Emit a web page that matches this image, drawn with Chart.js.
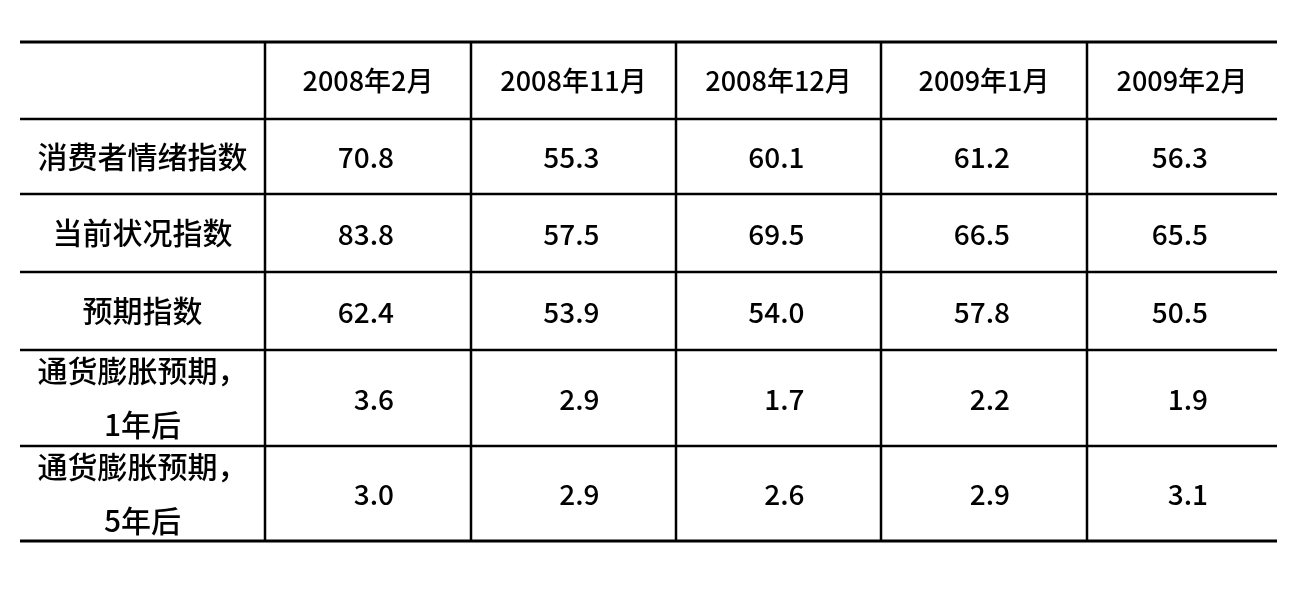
<!DOCTYPE html>
<html><head><meta charset="utf-8">
<script src="https://cdn.jsdelivr.net/npm/chart.js@4.4.0/dist/chart.umd.min.js"></script>
<style>html,body{margin:0;padding:0;background:#fff;overflow:hidden}</style></head>
<body><canvas id="c" width="1303" height="603"></canvas>
<script>
// ---- data ----
const columns = ['2008年2月', '2008年11月', '2008年12月', '2009年1月', '2009年2月'];
const rowLabels = [['消费者情绪指数'], ['当前状况指数'], ['预期指数'], ['通货膨胀预期，', '1年后'], ['通货膨胀预期，', '5年后']];
const sentimentIndex = [70.8, 55.3, 60.1, 61.2, 56.3];
const currentIndex   = [83.8, 57.5, 69.5, 66.5, 65.5];
const expectIndex    = [62.4, 53.9, 54.0, 57.8, 50.5];
const inflation1y    = [3.6, 2.9, 1.7, 2.2, 1.9];
const inflation5y    = [3.0, 2.9, 2.6, 2.9, 3.1];
const tableRows = [sentimentIndex, currentIndex, expectIndex, inflation1y, inflation5y];

// ---- layout (scale units) ----
const COL_W = [245, 206, 205, 205, 206, 190];
const ROW_H = [77, 75, 78, 78, 96, 95];
function edges(a){ const e=[0]; a.forEach(w=>e.push(e[e.length-1]+w)); return e; }
const colEdges = edges(COL_W), rowEdges = edges(ROW_H);
const mid = (e,i) => (e[i]+e[i+1])/2;

const headerPts = columns.map((t,i)=>({x:mid(colEdges,i+1), y:mid(rowEdges,0), text:[t], kind:'head'}));
const labelPts = rowLabels.map((t,r)=>({x:mid(colEdges,0), y:mid(rowEdges,r+1), text:t, kind:'label'}));
const valuePts = [];
tableRows.forEach((vals,r)=>vals.forEach((v,c)=>valuePts.push({x:mid(colEdges,c+1), y:mid(rowEdges,r+1), text:[v.toFixed(1)], kind:'value'})));

const FONT = '"Noto Sans CJK SC", "Noto Sans", sans-serif';
const tablePlugin = {
  id: 'tableDraw',
  afterDatasetsDraw(chart){
    const {ctx, scales:{x, y}} = chart;
    ctx.save();
    ctx.strokeStyle = '#000';
    const x0 = x.getPixelForValue(0), x1 = x.getPixelForValue(colEdges[colEdges.length-1]);
    const y0 = y.getPixelForValue(0), y1 = y.getPixelForValue(rowEdges[rowEdges.length-1]);
    rowEdges.forEach((v,i)=>{
      const py = y.getPixelForValue(v);
      ctx.lineWidth = (i===0 || i===rowEdges.length-1) ? 3 : 2.5;
      ctx.beginPath(); ctx.moveTo(x0, py); ctx.lineTo(x1, py); ctx.stroke();
    });
    colEdges.slice(1,-1).forEach(v=>{
      const px = x.getPixelForValue(v);
      ctx.lineWidth = 2.5;
      ctx.beginPath(); ctx.moveTo(px, y0); ctx.lineTo(px, y1); ctx.stroke();
    });
    ctx.fillStyle = '#000';
    ctx.textBaseline = 'middle';
    chart.data.datasets.forEach((ds, di)=>{
      const meta = chart.getDatasetMeta(di);
      meta.data.forEach((el, i)=>{
        const raw = ds.data[i];
        if (raw.kind === 'value') {
          ctx.font = '500 28px ' + FONT; ctx.textAlign = 'right';
          ctx.fillText(raw.text[0], el.x + 26, el.y + 1);
        } else if (raw.kind === 'head') {
          ctx.font = '500 27px ' + FONT; ctx.textAlign = 'center';
          ctx.fillText(raw.text[0], el.x, el.y);
        } else {
          ctx.font = '500 30px ' + FONT; ctx.textAlign = 'center';
          const n = raw.text.length, lh = 54;
          raw.text.forEach((t,k)=>{
            ctx.fillText(t, el.x, el.y + (k - (n-1)/2) * lh);
          });
        }
      });
    });
    ctx.restore();
  }
};

new Chart(document.getElementById('c'), {
  type: 'scatter',
  data: { datasets: [
    { label: 'header', data: headerPts, pointRadius: 0 },
    { label: 'labels', data: labelPts, pointRadius: 0 },
    { label: 'values', data: valuePts, pointRadius: 0 }
  ]},
  options: {
    responsive: false, animation: false, events: [],
    layout: { padding: { left: 20, right: 26, top: 42, bottom: 62 } },
    plugins: { legend: { display: false }, tooltip: { enabled: false } },
    scales: {
      x: { type: 'linear', display: false, min: 0, max: colEdges[colEdges.length-1] },
      y: { type: 'linear', display: false, reverse: true, min: 0, max: rowEdges[rowEdges.length-1] }
    }
  },
  plugins: [tablePlugin]
});
</script></body></html>
